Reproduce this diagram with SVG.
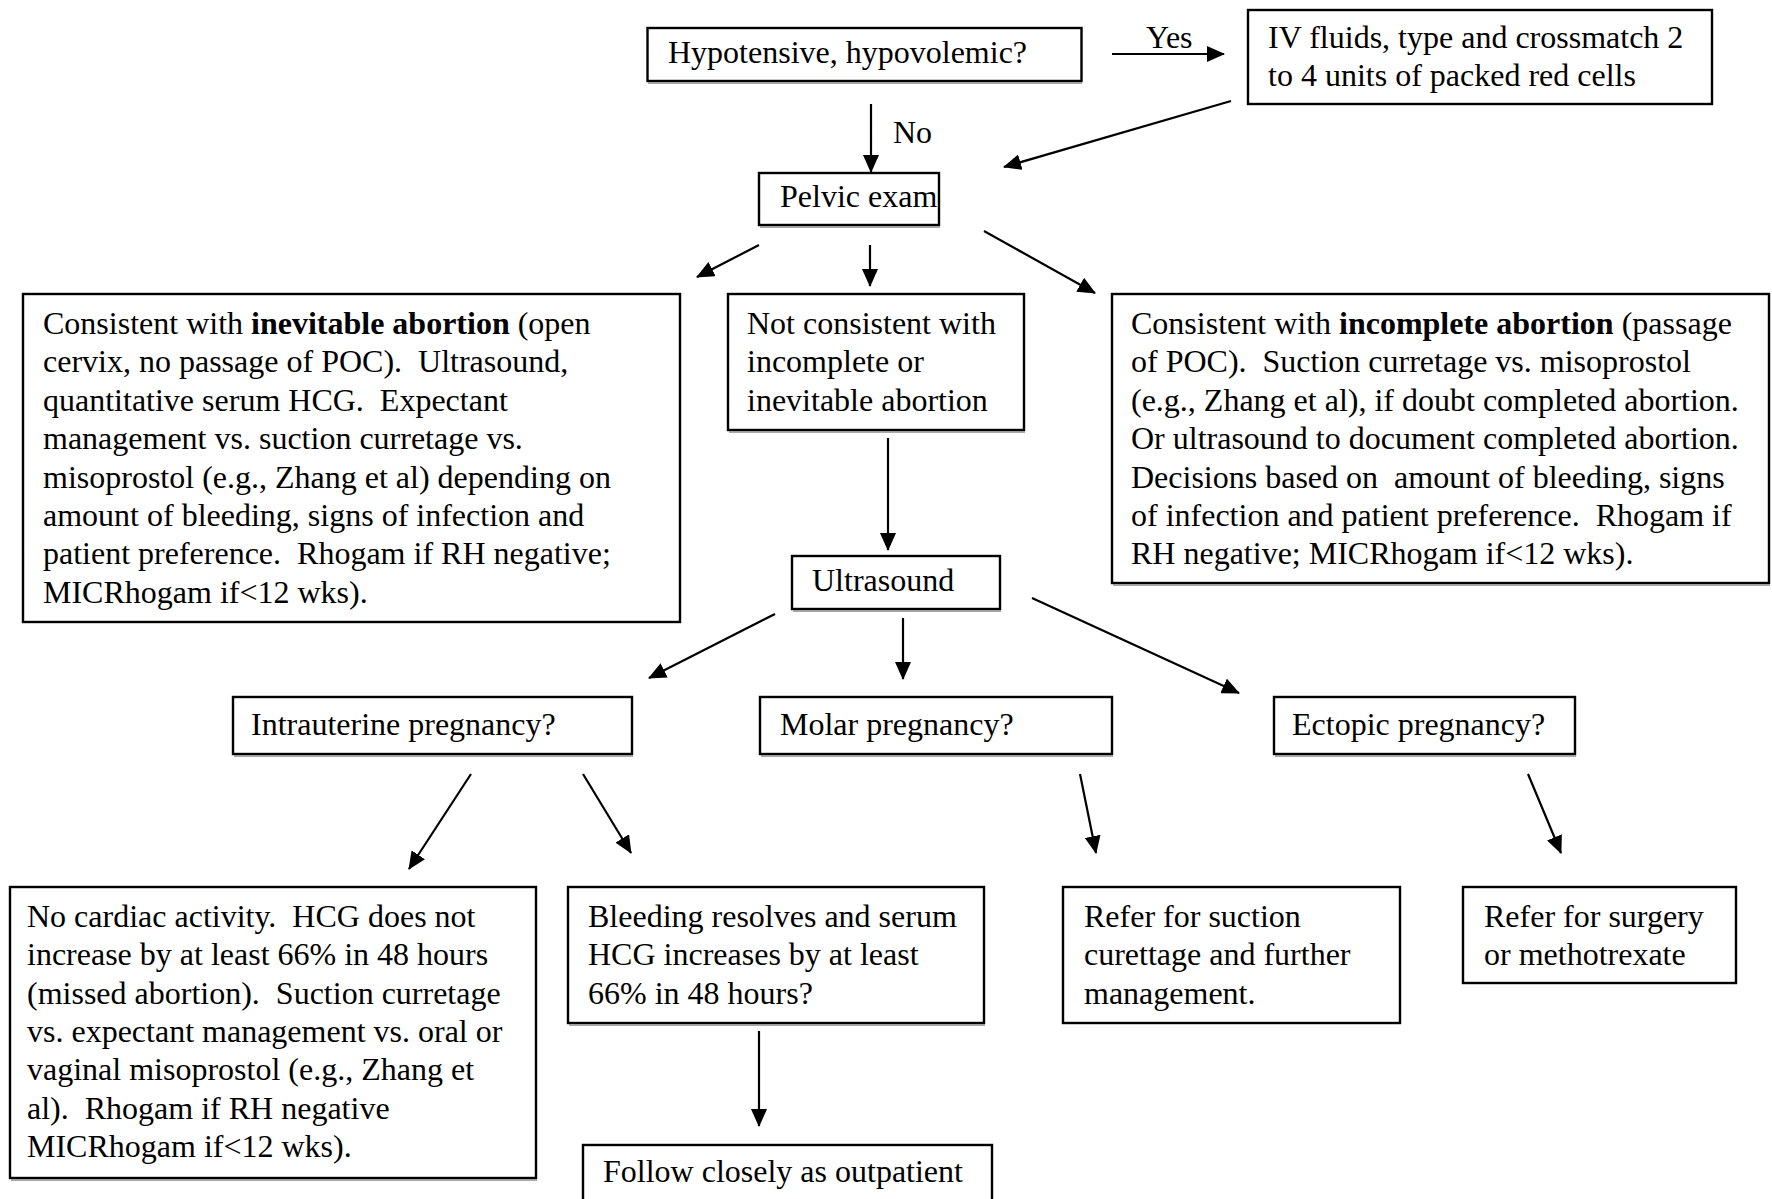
<svg xmlns="http://www.w3.org/2000/svg" width="1772" height="1199" viewBox="0 0 1772 1199">
  <defs>
    <marker id="arrow" markerUnits="userSpaceOnUse" markerWidth="18" markerHeight="16" refX="17" refY="8" orient="auto">
      <path d="M0,0 L18,8 L0,16 Z" fill="#000"/>
    </marker>
    <style>
      rect.box { fill: #fff; stroke: #000; stroke-width: 2.4; }
      line.shade { stroke: #8c8c8c; stroke-width: 1.4; }
      text { font-family: "Liberation Serif", "Times New Roman", serif; font-size: 32px; fill: #000; white-space: pre; }
      .b { font-weight: bold; }
      #connectors line { stroke: #000; stroke-width: 2.2; marker-end: url(#arrow); }
    </style>
  </defs>
  <rect width="1772" height="1199" fill="#fff"/>

  <!-- connectors -->
  <g id="connectors">
    <line x1="1112" y1="54" x2="1224" y2="54"/>
    <line x1="871" y1="104" x2="871" y2="172"/>
    <line x1="1231" y1="101" x2="1004" y2="167"/>
    <line x1="759" y1="245" x2="697" y2="277"/>
    <line x1="870" y1="245" x2="870" y2="286"/>
    <line x1="984" y1="231" x2="1095" y2="293"/>
    <line x1="888" y1="438" x2="888" y2="550"/>
    <line x1="775" y1="614" x2="649" y2="678"/>
    <line x1="903" y1="618" x2="903" y2="679"/>
    <line x1="1032" y1="598" x2="1239" y2="693"/>
    <line x1="471" y1="774" x2="409" y2="869"/>
    <line x1="583" y1="774" x2="631" y2="853"/>
    <line x1="1080" y1="774" x2="1096" y2="853"/>
    <line x1="1528" y1="774" x2="1561" y2="853"/>
    <line x1="759" y1="1031" x2="759" y2="1126"/>
  </g>

  <!-- edge labels -->
  <g id="labels">
    <text x="1146" y="48">Yes</text>
    <text x="893" y="143">No</text>
  </g>

  <g id="hypotensive">
    <rect class="box" x="647.5" y="28" width="434" height="53"/>
    <line class="shade" x1="648" y1="83" x2="1082" y2="83"/>
    <text x="668" y="63">Hypotensive, hypovolemic?</text>
  </g>

  <g id="iv-fluids">
    <rect class="box" x="1248" y="10" width="464" height="94"/>
    <text x="1268" y="48">IV fluids, type and crossmatch 2</text>
    <text x="1268" y="86">to 4 units of packed red cells</text>
  </g>

  <g id="pelvic-exam">
    <rect class="box" x="759" y="173" width="180" height="52"/>
    <line class="shade" x1="760" y1="227" x2="940" y2="227"/>
    <text x="780" y="207">Pelvic exam</text>
  </g>

  <g id="inevitable">
    <rect class="box" x="23" y="294" width="657" height="328"/>
    <text x="43" y="334">Consistent with <tspan class="b">inevitable abortion</tspan> (open</text>
    <text x="43" y="372">cervix, no passage of POC).  Ultrasound,</text>
    <text x="43" y="411">quantitative serum HCG.  Expectant</text>
    <text x="43" y="449">management vs. suction curretage vs.</text>
    <text x="43" y="488">misoprostol (e.g., Zhang et al) depending on</text>
    <text x="43" y="526">amount of bleeding, signs of infection and</text>
    <text x="43" y="564">patient preference.  Rhogam if RH negative;</text>
    <text x="43" y="603">MICRhogam if&lt;12 wks).</text>
  </g>

  <g id="not-consistent">
    <rect class="box" x="728" y="294" width="296" height="136"/>
    <line class="shade" x1="729" y1="432" x2="1025" y2="432"/>
    <text x="747" y="334">Not consistent with</text>
    <text x="747" y="372">incomplete or</text>
    <text x="747" y="411">inevitable abortion</text>
  </g>

  <g id="incomplete">
    <rect class="box" x="1112" y="294" width="657" height="289"/>
    <line class="shade" x1="1113" y1="585" x2="1770" y2="585"/>
    <text x="1131" y="334">Consistent with <tspan class="b">incomplete abortion</tspan> (passage</text>
    <text x="1131" y="372">of POC).  Suction curretage vs. misoprostol</text>
    <text x="1131" y="411">(e.g., Zhang et al), if doubt completed abortion.</text>
    <text x="1131" y="449">Or ultrasound to document completed abortion.</text>
    <text x="1131" y="488">Decisions based on  amount of bleeding, signs</text>
    <text x="1131" y="526">of infection and patient preference.  Rhogam if</text>
    <text x="1131" y="564">RH negative; MICRhogam if&lt;12 wks).</text>
  </g>

  <g id="ultrasound">
    <rect class="box" x="792" y="556" width="208" height="53"/>
    <line class="shade" x1="793" y1="611" x2="1001" y2="611"/>
    <text x="812" y="591">Ultrasound</text>
  </g>

  <g id="intrauterine">
    <rect class="box" x="233" y="697" width="399" height="57"/>
    <line class="shade" x1="234" y1="756" x2="633" y2="756"/>
    <text x="251" y="735">Intrauterine pregnancy?</text>
  </g>

  <g id="molar">
    <rect class="box" x="760" y="697" width="352" height="57"/>
    <line class="shade" x1="761" y1="756" x2="1113" y2="756"/>
    <text x="780" y="735">Molar pregnancy?</text>
  </g>

  <g id="ectopic">
    <rect class="box" x="1274" y="697" width="301" height="57"/>
    <line class="shade" x1="1275" y1="756" x2="1576" y2="756"/>
    <text x="1292" y="735">Ectopic pregnancy?</text>
  </g>

  <g id="missed">
    <rect class="box" x="10" y="887" width="526" height="291"/>
    <line class="shade" x1="11" y1="1180" x2="537" y2="1180"/>
    <text x="27" y="927">No cardiac activity.  HCG does not</text>
    <text x="27" y="965">increase by at least 66% in 48 hours</text>
    <text x="27" y="1004">(missed abortion).  Suction curretage</text>
    <text x="27" y="1042">vs. expectant management vs. oral or</text>
    <text x="27" y="1080">vaginal misoprostol (e.g., Zhang et</text>
    <text x="27" y="1119">al).  Rhogam if RH negative</text>
    <text x="27" y="1157">MICRhogam if&lt;12 wks).</text>
  </g>

  <g id="bleeding-resolves">
    <rect class="box" x="568" y="887" width="416" height="136"/>
    <line class="shade" x1="569" y1="1025" x2="985" y2="1025"/>
    <text x="588" y="927">Bleeding resolves and serum</text>
    <text x="588" y="965">HCG increases by at least</text>
    <text x="588" y="1004">66% in 48 hours?</text>
  </g>

  <g id="refer-suction">
    <rect class="box" x="1063" y="887" width="337" height="136"/>
    <text x="1084" y="927">Refer for suction</text>
    <text x="1084" y="965">curettage and further</text>
    <text x="1084" y="1004">management.</text>
  </g>

  <g id="refer-surgery">
    <rect class="box" x="1463" y="887" width="273" height="96"/>
    <text x="1484" y="927">Refer for surgery</text>
    <text x="1484" y="965">or methotrexate</text>
  </g>

  <g id="follow-up">
    <rect class="box" x="583" y="1145" width="409" height="70"/>
    <text x="603" y="1182">Follow closely as outpatient</text>
  </g>
</svg>
